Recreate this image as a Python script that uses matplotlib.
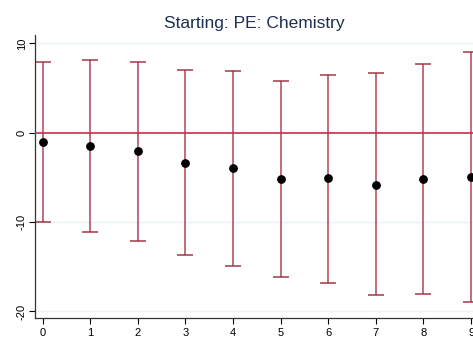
import numpy as np
import matplotlib
matplotlib.use("Agg")
import matplotlib.pyplot as plt

plt.rcParams['font.family'] = ['Liberation Sans', 'DejaVu Sans']

# values
steps = [0, 1, 2, 3, 4, 5, 6, 7, 8, 9]
estimate = [-1.05, -1.5, -2.1, -3.35, -3.95, -5.2, -5.1, -5.8, -5.2, -4.95]
ci_upper = [7.9, 8.15, 7.95, 7.0, 6.95, 5.8, 6.5, 6.7, 7.65, 9.0]
ci_lower = [-10.0, -11.1, -12.1, -13.7, -14.9, -16.1, -16.8, -18.2, -18.0, -18.9]
yticks = [-20, -10, 0, 10]

fig = plt.figure(figsize=(4.73, 3.38), dpi=100)
ax = fig.add_axes([35/473, 20/338, 1 - 35/473, 283/338])

# grid lines like stata's s2color scheme
for t in yticks:
    ax.axhline(t, color='#eaf2f3', lw=1.0, zorder=0)

ax.errorbar(steps, estimate,
            yerr=[np.array(estimate) - np.array(ci_lower), np.array(ci_upper) - np.array(estimate)],
            fmt='none', ecolor='#9a2838', elinewidth=1.1, capsize=6, capthick=1.2,
            alpha=0.85, zorder=2)
ax.axhline(0, color='#d5284f', lw=1.2, zorder=3)
ax.scatter(steps, estimate, s=28, color='black', zorder=4)

ax.set_xlim(-0.16, 9.04)
ax.set_ylim(-20.73, 10.93)
ax.set_xticks(steps)
ax.set_yticks(yticks)
ax.set_yticklabels([str(t) for t in yticks], rotation=90, va='center')
ax.tick_params(axis='both', labelsize=8, length=4, width=0.8, colors='black', direction='out')
ax.tick_params(axis='y', pad=2)
ax.tick_params(axis='x', pad=3)

for side in ['top', 'right']:
    ax.spines[side].set_visible(False)
for side in ['left', 'bottom']:
    ax.spines[side].set_color('#333333')
    ax.spines[side].set_linewidth(0.9)

ax.set_title('Starting: PE: Chemistry', fontsize=12.5, color='#1e2d53', pad=5)

fig.savefig('out.png', dpi=100, facecolor='white')
